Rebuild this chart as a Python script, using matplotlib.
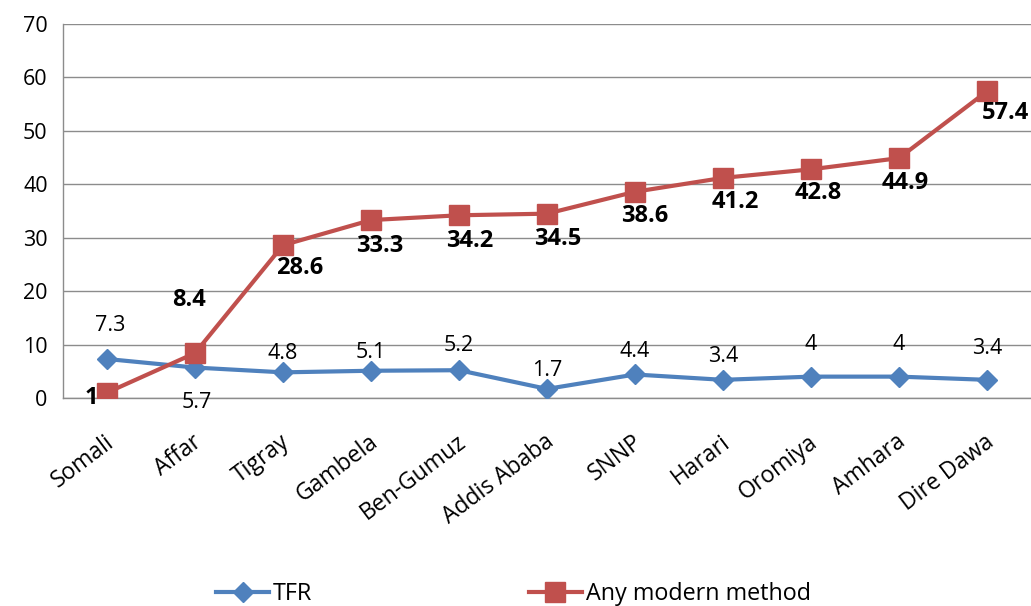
import matplotlib
matplotlib.use("Agg")
import matplotlib.pyplot as plt
from matplotlib.transforms import ScaledTranslation

regions = ["Somali", "Affar", "Tigray", "Gambela", "Ben-Gumuz", "Addis Ababa",
           "SNNP", "Harari", "Oromiya", "Amhara", "Dire Dawa"]
tfr = [7.3, 5.7, 4.8, 5.1, 5.2, 1.7, 4.4, 3.4, 4, 4, 3.4]
modern = [1, 8.4, 28.6, 33.3, 34.2, 34.5, 38.6, 41.2, 42.8, 44.9, 57.4]
tfr_labels = ["7.3", "5.7", "4.8", "5.1", "5.2", "1.7", "4.4", "3.4", "4", "4", "3.4"]
modern_labels = ["1", "8.4", "28.6", "33.3", "34.2", "34.5", "38.6", "41.2", "42.8", "44.9", "57.4"]
yticks = [0, 10, 20, 30, 40, 50, 60, 70]

plt.rcParams['font.family'] = ['Open Sans', 'DejaVu Sans']

BLUE = "#4F81BD"
RED = "#C0504D"
GRID = "#8C8C8C"

fig = plt.figure(figsize=(10.31, 6.06), dpi=100)
ax = fig.add_axes([63/1031, 1-398/606, 1-63/1031, (398-24)/606])

x = list(range(len(regions)))
ax.plot(x, tfr, color=BLUE, lw=3, marker='D', ms=10, label="TFR", zorder=3)
ax.plot(x, modern, color=RED, lw=3, marker='s', ms=14, label="Any modern method", zorder=4)

ax.set_xlim(-0.5, len(regions)-0.5)
ax.set_ylim(0, 70)
ax.set_yticks(yticks)
ax.set_xticks(x)
ax.set_xticklabels(regions, rotation=37, ha='right', rotation_mode='anchor', fontsize=16.5)
ax.tick_params(axis='y', length=0, pad=11, labelsize=15.5)
ax.tick_params(axis='x', length=0, pad=23)
shift = ScaledTranslation(-3/100, 0, fig.dpi_scale_trans)
for lab in ax.get_xticklabels():
    lab.set_transform(lab.get_transform() + shift)
ax.yaxis.grid(True, color=GRID, lw=1)
ax.set_axisbelow(True)
for s in ['top', 'right']:
    ax.spines[s].set_visible(False)
ax.spines['left'].set_color(GRID)
ax.spines['bottom'].set_color(GRID)
ax.spines['left'].set_linewidth(1)
ax.spines['bottom'].set_linewidth(1)

# TFR label offsets (pixels)
tfr_off = [(3, 33), (2, -35), (0, 19), (0, 18), (0, 25), (0, 18), (0, 23), (0, 23), (0, 32), (0, 32), (0, 31)]
for i, (v, lab) in enumerate(zip(tfr, tfr_labels)):
    dx, dy = tfr_off[i]
    ax.annotate(lab, (i, v), xytext=(dx, dy), textcoords='offset pixels',
                ha='center', va='center', fontsize=15.5, zorder=6)

mod_off = [(-16, -5), (-6, 53), (17, -23), (9, -26), (11, -26), (11, -25), (10, -24), (12, -24), (7, -24), (6, -25), (18, -22)]
for i, (v, lab) in enumerate(zip(modern, modern_labels)):
    dx, dy = mod_off[i]
    ax.annotate(lab, (i, v), xytext=(dx, dy), textcoords='offset pixels',
                ha='center', va='center', fontsize=17, fontweight='bold', zorder=6)

fig.legend(loc='center', bbox_to_anchor=(513.5/1031, 1-594/606), ncol=2, frameon=False,
           fontsize=16.8, handlelength=2.27, handletextpad=0.17, columnspacing=9.27)

fig.savefig("out.png", dpi=100)
